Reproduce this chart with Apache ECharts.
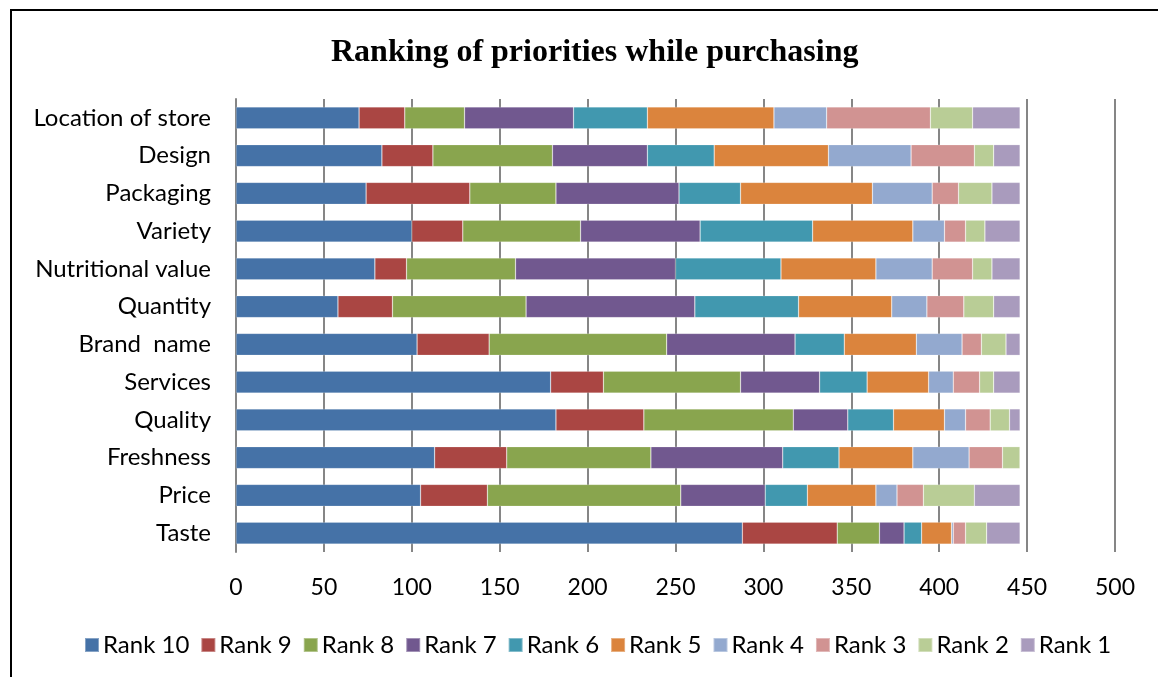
<!DOCTYPE html>
<html>
<head>
<meta charset="utf-8">
<script src="https://cdn.jsdelivr.net/npm/echarts@6/dist/echarts.min.js"></script>
<style>
html,body{margin:0;padding:0;background:#fff;}
#chart{width:1158px;height:677px;}
</style>
</head>
<body>
<div id="chart"></div>
<script>
const categories = ["Taste","Price","Freshness","Quality","Services","Brand  name","Quantity","Nutritional value","Variety","Packaging","Design","Location of store"];
const seriesNames = ["Rank 10","Rank 9","Rank 8","Rank 7","Rank 6","Rank 5","Rank 4","Rank 3","Rank 2","Rank 1"];
const colors = ["#4572A7","#AA4643","#89A54E","#71588F","#4198AF","#DB843D","#93A9CF","#D19392","#B9CD96","#A99BBD"];
// values per rank, ordered as categories (Taste ... Location of store)
const rank10 = [288,105,113,182,179,103,58,79,100,74,83,70];
const rank9  = [54,38,41,50,30,41,31,18,29,59,29,26];
const rank8  = [24,110,82,85,78,101,76,62,67,49,68,34];
const rank7  = [14,48,75,31,45,73,96,91,68,70,54,62];
const rank6  = [10,24,32,26,27,28,59,60,64,35,38,42];
const rank5  = [17,39,42,29,35,41,53,54,57,75,65,72];
const rank4  = [1,12,32,12,14,26,20,32,18,34,47,30];
const rank3  = [7,15,19,14,15,11,21,23,12,15,36,59];
const rank2  = [12,29,10,11,8,14,17,11,11,19,11,24];
const rank1  = [19,26,0,6,15,8,15,16,20,16,15,27];
const xTicks = {min:0, max:500, interval:50};

const allData = [rank10,rank9,rank8,rank7,rank6,rank5,rank4,rank3,rank2,rank1];
const font = "Lato, 'Open Sans', sans-serif";

const chart = echarts.init(document.getElementById('chart'), null, {renderer:'canvas'});
chart.setOption({
  animation:false,
  color: colors,
  title:{
    text:"Ranking of priorities while purchasing",
    left:326, top:32,
    textStyle:{fontFamily:"'Liberation Serif', 'Times New Roman', serif", fontWeight:'bold', fontSize:32, color:'#000'}
  },
  graphic:[{
    type:'polyline', silent:true,
    shape:{points:[[11,690],[11,10],[1170,10]]},
    style:{stroke:'#000', lineWidth:2, fill:null}
  }],
  legend:{
    data:seriesNames,
    top:628, left:79,
    itemWidth:14, itemHeight:14, itemGap:11,
    icon:'rect',
    textStyle:{fontFamily:font, fontSize:24, color:'#000', padding:[0,0,0,-1]}
  },
  grid:{left:236, right:43, top:99, bottom:125, containLabel:false},
  xAxis:{
    type:'value', min:xTicks.min, max:xTicks.max, interval:xTicks.interval,
    axisLine:{show:false}, axisTick:{show:false},
    axisLabel:{fontFamily:font, fontSize:23, color:'#000', margin:24},
    splitLine:{show:true, lineStyle:{color:'#868686', width:2}}
  },
  yAxis:{
    type:'category', data:categories,
    axisLine:{show:true, lineStyle:{color:'#868686', width:2}},
    axisTick:{show:false},
    axisLabel:{fontFamily:font, fontSize:24, color:'#000', margin:25}
  },
  series: seriesNames.map((n,i)=>({
    name:n, type:'bar', stack:'total', data:allData[i],
    barWidth:22,
    itemStyle:{color:colors[i], borderColor:'rgba(255,255,255,0.35)', borderWidth:0.6}
  }))
});
</script>
</body>
</html>
